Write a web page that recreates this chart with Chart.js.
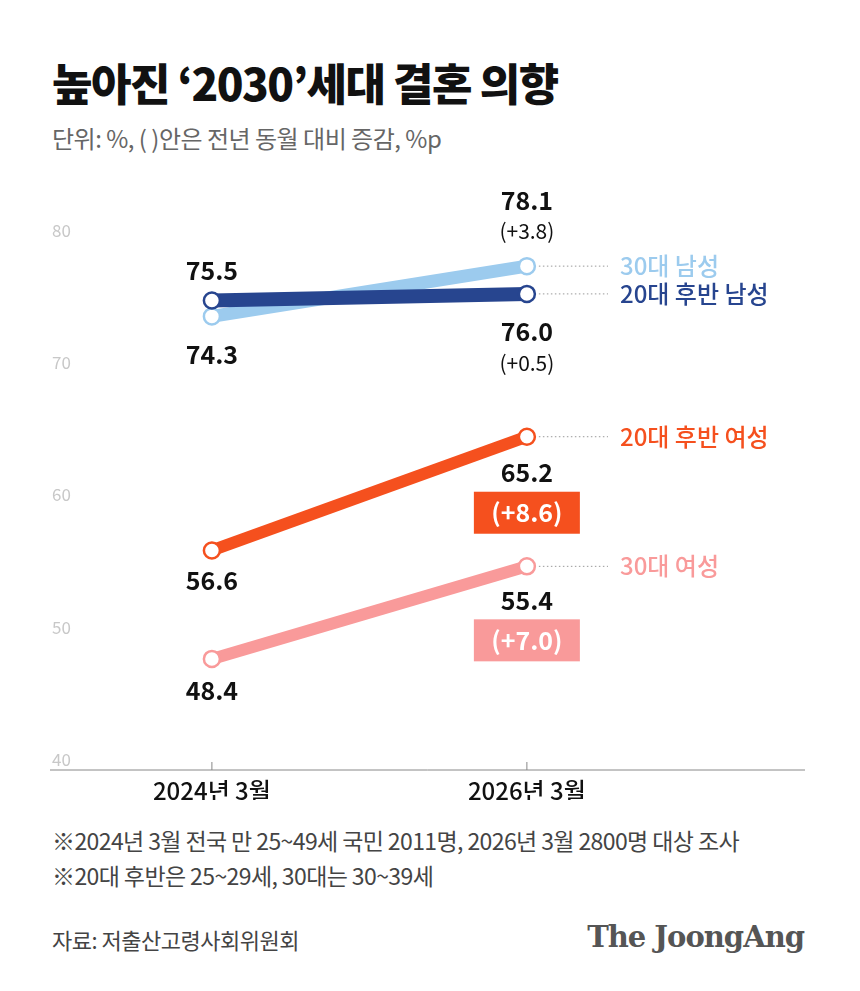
<!DOCTYPE html>
<html><head><meta charset="utf-8">
<script src="https://cdn.jsdelivr.net/npm/chart.js@4"></script>
<style>
body{margin:0;width:860px;height:991px;background:#fff;font-family:"Noto Sans CJK KR",sans-serif;position:relative;overflow:hidden}
#wrap{position:absolute;left:0;top:0;width:860px;height:800px}
.t{position:absolute;white-space:nowrap}
</style></head><body>
<div class="t" style="left:52px;top:50px;font-size:44px;font-weight:900;letter-spacing:-1.5px;color:#111">높아진 ‘2030’세대 결혼 의향</div>
<div class="t" style="left:52px;top:120px;font-size:24px;letter-spacing:-0.5px;color:#666">단위: %, ( )안은 전년 동월 대비 증감, %p</div>
<div id="wrap"><canvas id="c"></canvas></div>
<div class="t" style="left:52px;top:823px;font-size:23px;letter-spacing:-0.6px;color:#444">※2024년 3월 전국 만 25~49세 국민 2011명, 2026년 3월 2800명 대상 조사</div>
<div class="t" style="left:52px;top:858px;font-size:23px;letter-spacing:-0.6px;color:#444">※20대 후반은 25~29세, 30대는 30~39세</div>
<div class="t" style="left:52px;top:923px;font-size:22px;letter-spacing:-0.5px;color:#444">자료: 저출산고령사회위원회</div>
<div class="t" style="right:56px;top:920px;font-size:29px;font-weight:bold;color:#555;font-family:'DejaVu Serif',serif;letter-spacing:-1px">The JoongAng</div>
<script>
var periods = ['2024년 3월', '2026년 3월'];
var men30 = [74.3, 78.1];
var men20 = [75.5, 76.0];
var women20 = [56.6, 65.2];
var women30 = [48.4, 55.4];
var yTicks = [40, 50, 60, 70, 80];

function pts(arr) { return arr.map(function (v, i) { return { x: i, y: v }; }); }
function ds(label, data, color, w, order) {
    return { label: label, data: pts(data), borderColor: color, borderWidth: w, pointRadius: 8, order: order,
        pointBorderWidth: 2.5, pointBackgroundColor: '#fff', pointBorderColor: color };
}

// value labels: [series index, point index, text, dy, change, boxColor]
var labels = [
    [0, 0, '74.3', 38, null], [0, 1, '78.1', -66, '(+3.8)'],
    [1, 0, '75.5', -30, null], [1, 1, '76.0', 38, '(+0.5)'],
    [2, 0, '56.6', 30, null], [2, 1, '65.2', 36, '(+8.6)', '#f5501e'],
    [3, 0, '48.4', 32, null], [3, 1, '55.4', 34, '(+7.0)', '#f99a9a']
];
var names = ['30대 남성', '20대 후반 남성', '20대 후반 여성', '30대 여성'];

var drawPlugin = {
    id: 'draw',
    afterDraw: function (chart) {
        var c = chart.ctx, a = chart.chartArea, xs = chart.scales.x, ys = chart.scales.y;
        c.save();
        // y ticks
        c.font = '17px "Noto Sans CJK KR"'; c.fillStyle = '#c8c8c8'; c.textBaseline = 'bottom'; c.textAlign = 'left';
        yTicks.forEach(function (t) { c.fillText(t, 52, ys.getPixelForValue(t) - 2); });
        // x axis
        c.strokeStyle = '#888'; c.lineWidth = 1;
        c.beginPath(); c.moveTo(a.left, a.bottom); c.lineTo(a.right, a.bottom); c.stroke();
        c.fillStyle = '#111'; c.font = '500 24px "Noto Sans CJK KR"'; c.textAlign = 'center'; c.textBaseline = 'top';
        periods.forEach(function (p, i) {
            var x = xs.getPixelForValue(i);
            c.beginPath(); c.moveTo(x, a.bottom - 8); c.lineTo(x, a.bottom); c.stroke();
            c.fillText(p, x, a.bottom + 9);
        });
        // value labels
        c.textBaseline = 'middle';
        labels.forEach(function (l) {
            var m = chart.getDatasetMeta(l[0]).data[l[1]];
            var y = m.y + l[3];
            c.fillStyle = '#111'; c.font = 'bold 25px "Noto Sans CJK KR"';
            c.fillText(l[2], m.x, y);
            if (l[4]) {
                if (l[5]) {
                    c.fillStyle = l[5]; c.fillRect(m.x - 53, y + 19, 106, 42);
                    c.fillStyle = '#fff'; c.font = 'bold 25px "Noto Sans CJK KR"';
                    c.fillText(l[4], m.x, y + 40);
                } else {
                    c.font = '21px "Noto Sans CJK KR"';
                    c.fillText(l[4], m.x, y + 31);
                }
            }
        });
        // series names
        chart.data.datasets.forEach(function (d, i) {
            var m = chart.getDatasetMeta(i).data[1];
            c.strokeStyle = '#999'; c.setLineDash([1.5, 2.5]); c.lineWidth = 1;
            c.beginPath(); c.moveTo(m.x + 12, m.y); c.lineTo(608, m.y); c.stroke();
            c.setLineDash([]);
            c.fillStyle = d.borderColor; c.font = '500 24px "Noto Sans CJK KR"'; c.textAlign = 'left';
            c.fillText(names[i], 620, m.y);
            c.textAlign = 'center';
        });
        c.restore();
    }
};

new Chart(document.getElementById('c'), {
    type: 'line',
    data: { datasets: [
        ds('30대 남성', men30, '#9ccbee', 13, 2),
        ds('20대 후반 남성', men20, '#27458f', 14, 1),
        ds('20대 후반 여성', women20, '#f5501e', 12, 3),
        ds('30대 여성', women30, '#f99a9a', 12, 4)
    ] },
    options: {
        responsive: true, maintainAspectRatio: false, animation: false,
        layout: { padding: { left: 50, right: 55, top: 241, bottom: 30 } },
        plugins: { legend: { display: false }, tooltip: { enabled: false } },
        scales: {
            x: { type: 'linear', min: -0.514, max: 1.883, display: false },
            y: { min: 40, max: 80, display: false }
        }
    },
    plugins: [drawPlugin]
});
</script>
</body></html>
